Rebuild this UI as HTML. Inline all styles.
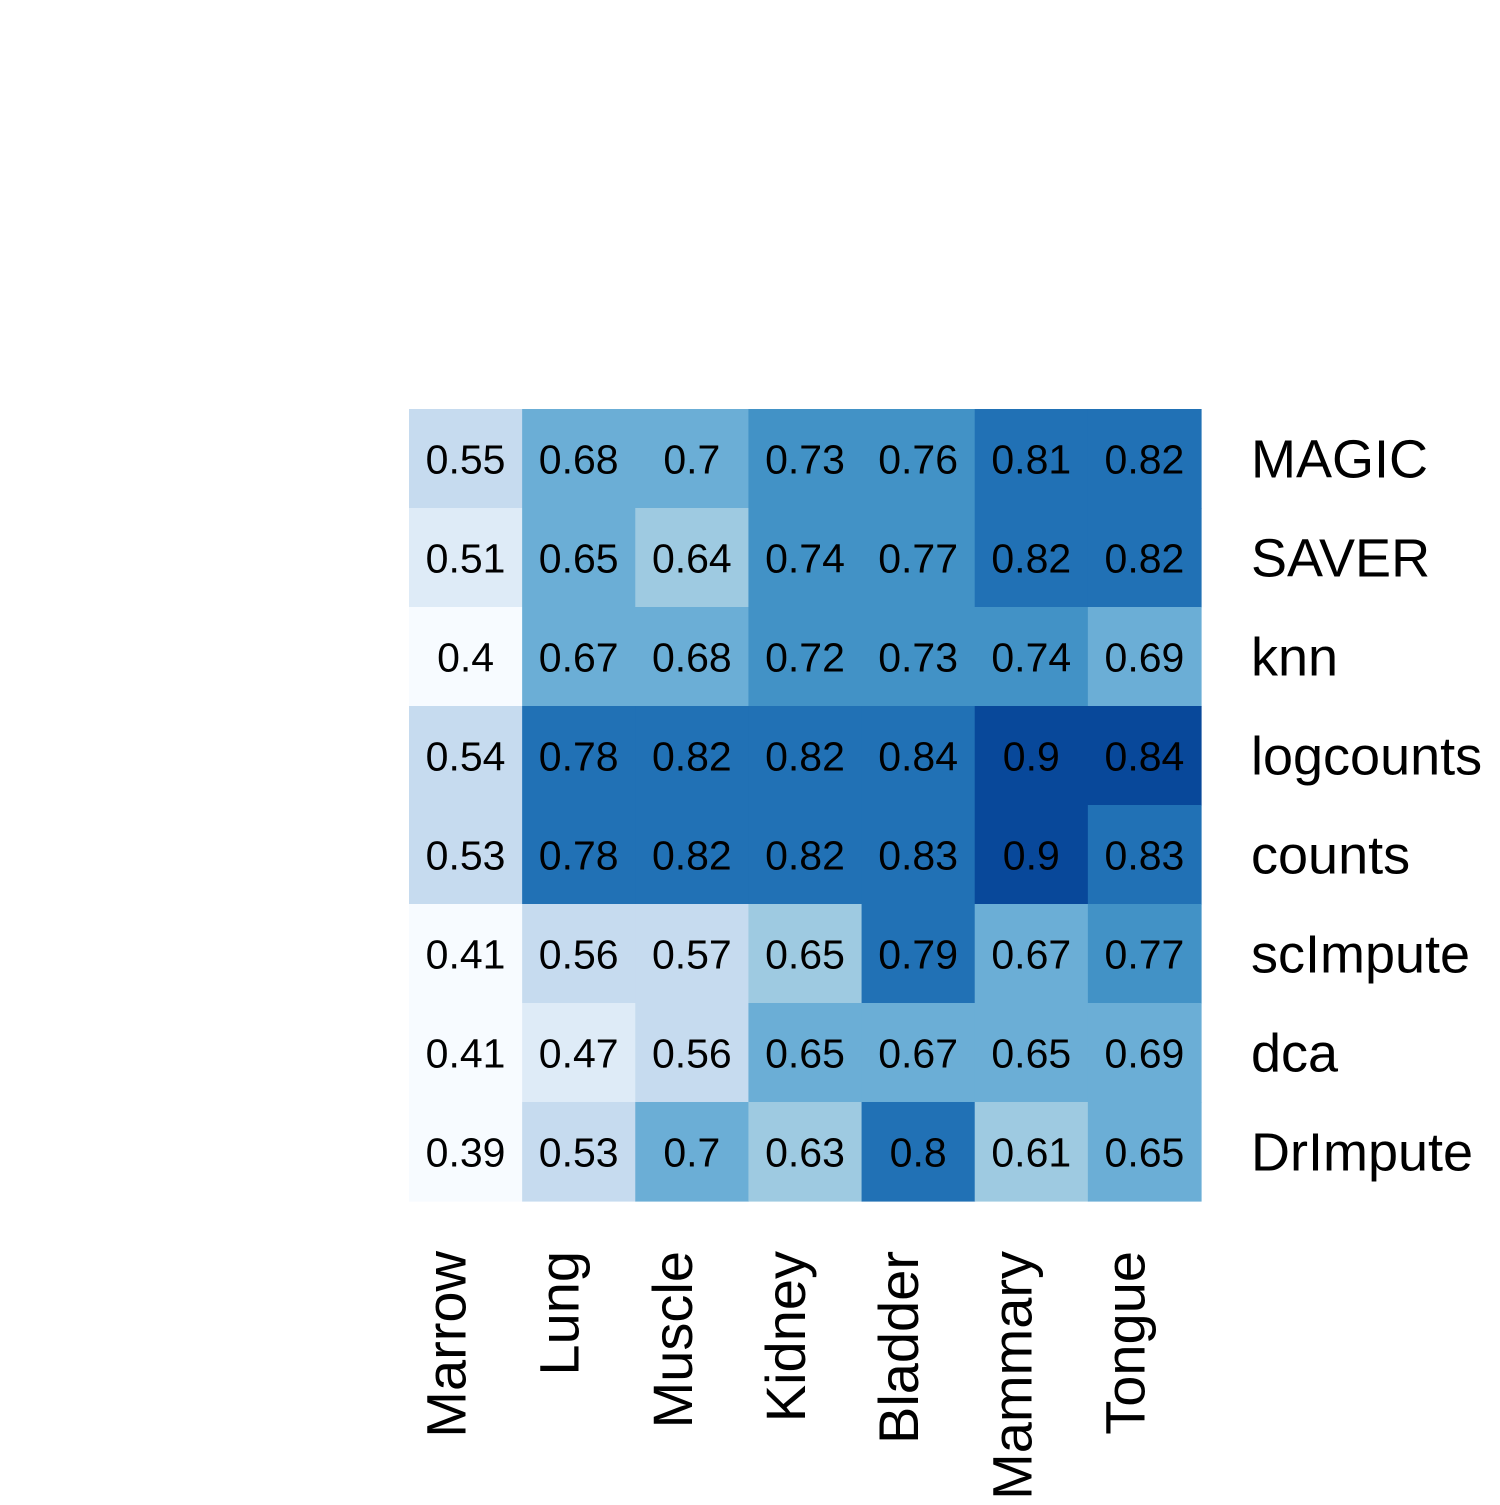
<!DOCTYPE html>
<html><head><meta charset="utf-8"><style>
html,body{margin:0;padding:0;background:#fff;}
svg text{font-family:"Liberation Sans",Arial,sans-serif;}
</style></head><body>
<svg id="chart" width="1500" height="1500" viewBox="0 0 1500 1500">
<g id="cells"></g>
<g id="rowlabels"></g>
<g id="collabels"></g>
</svg>
<script>
const columns = ["Marrow","Lung","Muscle","Kidney","Bladder","Mammary","Tongue"];
const rows = ["MAGIC","SAVER","knn","logcounts","counts","scImpute","dca","DrImpute"];
const rowMAGIC = [0.55,0.68,0.70,0.73,0.76,0.81,0.82];
const rowSAVER = [0.51,0.652,0.64,0.74,0.77,0.82,0.82];
const rowKnn = [0.40,0.67,0.68,0.72,0.73,0.74,0.69];
const rowLogcounts = [0.54,0.78,0.82,0.82,0.842,0.90,0.8448];
const rowCounts = [0.53,0.78,0.82,0.82,0.83,0.90,0.83];
const rowScImpute = [0.41,0.56,0.57,0.648,0.79,0.67,0.77];
const rowDca = [0.41,0.47,0.56,0.652,0.67,0.652,0.69];
const rowDrImpute = [0.39,0.53,0.70,0.63,0.80,0.61,0.652];
const values = [rowMAGIC,rowSAVER,rowKnn,rowLogcounts,rowCounts,rowScImpute,rowDca,rowDrImpute];
const palette = ["#F7FBFF","#DEEBF7","#C6DBEF","#9ECAE1","#6BAED6","#4292C6","#2171B5","#08489A"];
const breaks = [0.45,0.52,0.58,0.65,0.71,0.775,0.8445];

const x0=409, x1=1201, y0=409, y1=1201;
const cw=(x1-x0)/columns.length, ch=(y1-y0)/rows.length;
const xPos = i => x0 + i*cw;
const yPos = j => y0 + j*ch;
function colorOf(v){let k=0;while(k<breaks.length && v>=breaks[k])k++;return palette[k];}
const NS="http://www.w3.org/2000/svg";
const cells=document.getElementById('cells');
const rl=document.getElementById('rowlabels');
const cl=document.getElementById('collabels');
values.forEach((r,j)=>{
  r.forEach((v,i)=>{
    const rect=document.createElementNS(NS,'rect');
    rect.setAttribute('x',xPos(i));rect.setAttribute('y',yPos(j));
    rect.setAttribute('width',cw+0.6);rect.setAttribute('height',ch+0.6);
    rect.setAttribute('fill',colorOf(v));
    
    
    cells.appendChild(rect);
    const t=document.createElementNS(NS,'text');
    t.setAttribute('x',xPos(i)+cw/2);t.setAttribute('y',yPos(j)+ch/2+15);
    t.setAttribute('text-anchor','middle');t.setAttribute('font-size','41');
    t.textContent=String(+v.toFixed(2));
    
    
    cells.appendChild(t);
  });
  const t=document.createElementNS(NS,'text');
  t.setAttribute('x',1251);t.setAttribute('y',yPos(j)+ch/2+19);
  t.setAttribute('font-size','54');
  t.textContent=rows[j];
  
  
  rl.appendChild(t);
});
columns.forEach((c,i)=>{
  const t=document.createElementNS(NS,'text');
  const cx=xPos(i)+cw/2, cy=1251;
  t.setAttribute('transform','translate('+cx+','+cy+') rotate(-90)');
  t.setAttribute('text-anchor','end');t.setAttribute('font-size','56');
  t.textContent=c;
  
  
  cl.appendChild(t);
});
</script>
</body></html>
